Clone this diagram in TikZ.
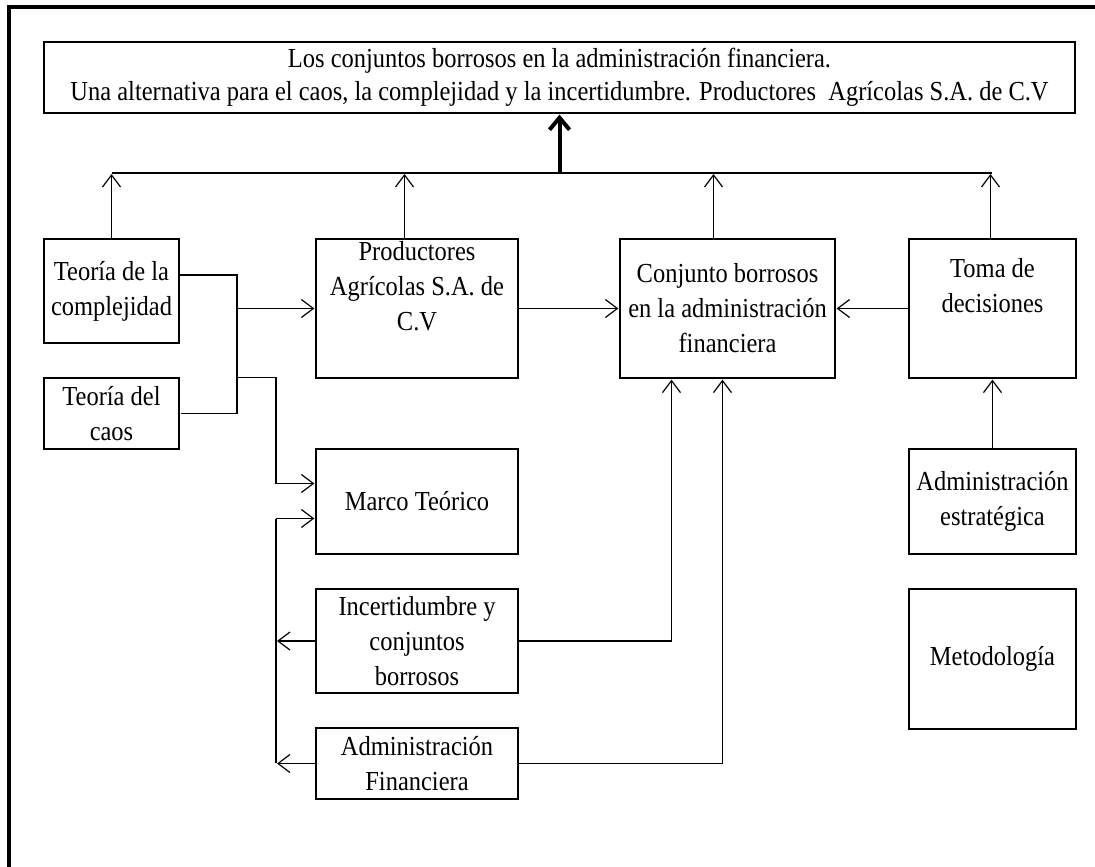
\documentclass[tikz,border=0pt]{standalone}
\usepackage{fontspec}
\setmainfont{Liberation Serif}[FakeStretch=0.89]
\usetikzlibrary{arrows.meta,positioning}
\newcommand{\boxfont}{\fontsize{27.5}{35}\selectfont}
\tikzset{
    box/.style={
           rectangle,
           draw=black, line width=1.2pt,
           align=center,
           inner sep=2pt,
           font=\boxfont
           },
    link/.style={
           line width=1.2pt
           },
    bigarrow/.style={
           line width=4pt,
           -{Straight Barb[length=12pt,width=20pt]}
           },
    edgeline/.style={
           line width=4pt
           }
}

\begin{document}
\begin{tikzpicture}[x=1pt, y=-1pt, shorten >=1pt, >={Straight Barb[length=12pt,width=18pt]}, node distance=100pt, on grid]
   \useasboundingbox (0,0) rectangle (1095,867);
   \draw[edgeline] (9,870) -- (9,7) -- (1100,7);
   % title
   \node[box, minimum width=1031pt, minimum height=71pt] (tit) at (559.5,77.5)
      {Los conjuntos borrosos en la administración financiera.\\[-2pt]
       Una alternativa para el caos, la complejidad y la incertidumbre. Productores~ Agrícolas S.A. de C.V};
   % upper row
   \node[box, minimum width=202pt, minimum height=139pt] (prod) at (417,308.5) {Productores\\Agrícolas S.A. de\\C.V\\\strut};
   \node[box, minimum width=135pt, minimum height=104pt] (compl) [left=305.5pt of prod, yshift=17.5pt] {Teoría de la\\complejidad};
   \node[box, minimum width=135pt, minimum height=71pt] (caos) [below=122.5pt of compl] {Teoría del\\caos};
   \node[box, minimum width=215pt, minimum height=139pt] (conj) [right=310.5pt of prod] {Conjunto borrosos\\en la administración\\financiera};
   \node[box, minimum width=167pt, minimum height=139pt] (toma) [right=265pt of conj] {Toma de\\decisiones\\\strut};
   % lower nodes
   \node[box, minimum width=202pt, minimum height=105pt] (marco) [below=193pt of prod] {Marco Teórico};
   \node[box, minimum width=202pt, minimum height=104pt] (incert) [below=139.5pt of marco] {Incertidumbre y\\conjuntos\\borrosos};
   \node[box, minimum width=202pt, minimum height=71pt] (admfin) [below=122.5pt of incert] {Administración\\Financiera};
   \node[box, minimum width=167pt, minimum height=105pt] (admest) [below=193pt of toma] {Administración\\estratégica};
   \node[box, minimum width=167pt, minimum height=140pt] (metod) [below=157.5pt of admest] {Metodología};

   \coordinate (bus) at (0,173);
   \coordinate (jl) at (237,0);
   \coordinate (jm) at (276,0);
   \coordinate (m1) at ([yshift=18pt]marco.west);
   \coordinate (m2) at ([yshift=-17pt]marco.west);
   \coordinate (c1) at ([xshift=-56pt]conj.south);
   \coordinate (c2) at ([xshift=-5pt]conj.south);

   % bus to the title
   \draw[link] (compl.north |- bus) -- (toma.north |- bus);
   \draw[bigarrow] (tit.south |- bus) -- (tit.south);
   \draw[link, ->] (compl.north) -- (compl.north |- bus);
   \draw[link, ->] ([xshift=-12.5pt]prod.north) -- ([xshift=-12.5pt]prod.north |- bus);
   \draw[link, ->] ([xshift=-14pt]conj.north) -- ([xshift=-14pt]conj.north |- bus);
   \draw[link, ->] ([xshift=-2pt]toma.north) -- ([xshift=-2pt]toma.north |- bus);

   % left side
   \draw[link] ([yshift=16pt]compl.east) -| (jl |- caos.east) -- (caos.east);
   \draw[link, ->] (jl |- prod.west) -- (prod.west);
   \draw[link, ->] (jl |- caos.north) -| (jm |- m1) -- (m1);
   \draw[link] (jm |- m2) -- (jm |- admfin.west);
   \draw[link, ->] (jm |- m2) -- (m2);
   \draw[link, ->] (incert.west) -- (jm |- incert.west);
   \draw[link, ->] (admfin.west) -- (jm |- admfin.west);

   % into the centre node
   \path[link, ->]
    (prod) edge (conj)
    (toma) edge (conj)
    (admest) edge (toma);
   \draw[link, ->] (incert.east) -| (c1);
   \draw[link, ->] (admfin.east) -| (c2);
\end{tikzpicture}
\end{document}
